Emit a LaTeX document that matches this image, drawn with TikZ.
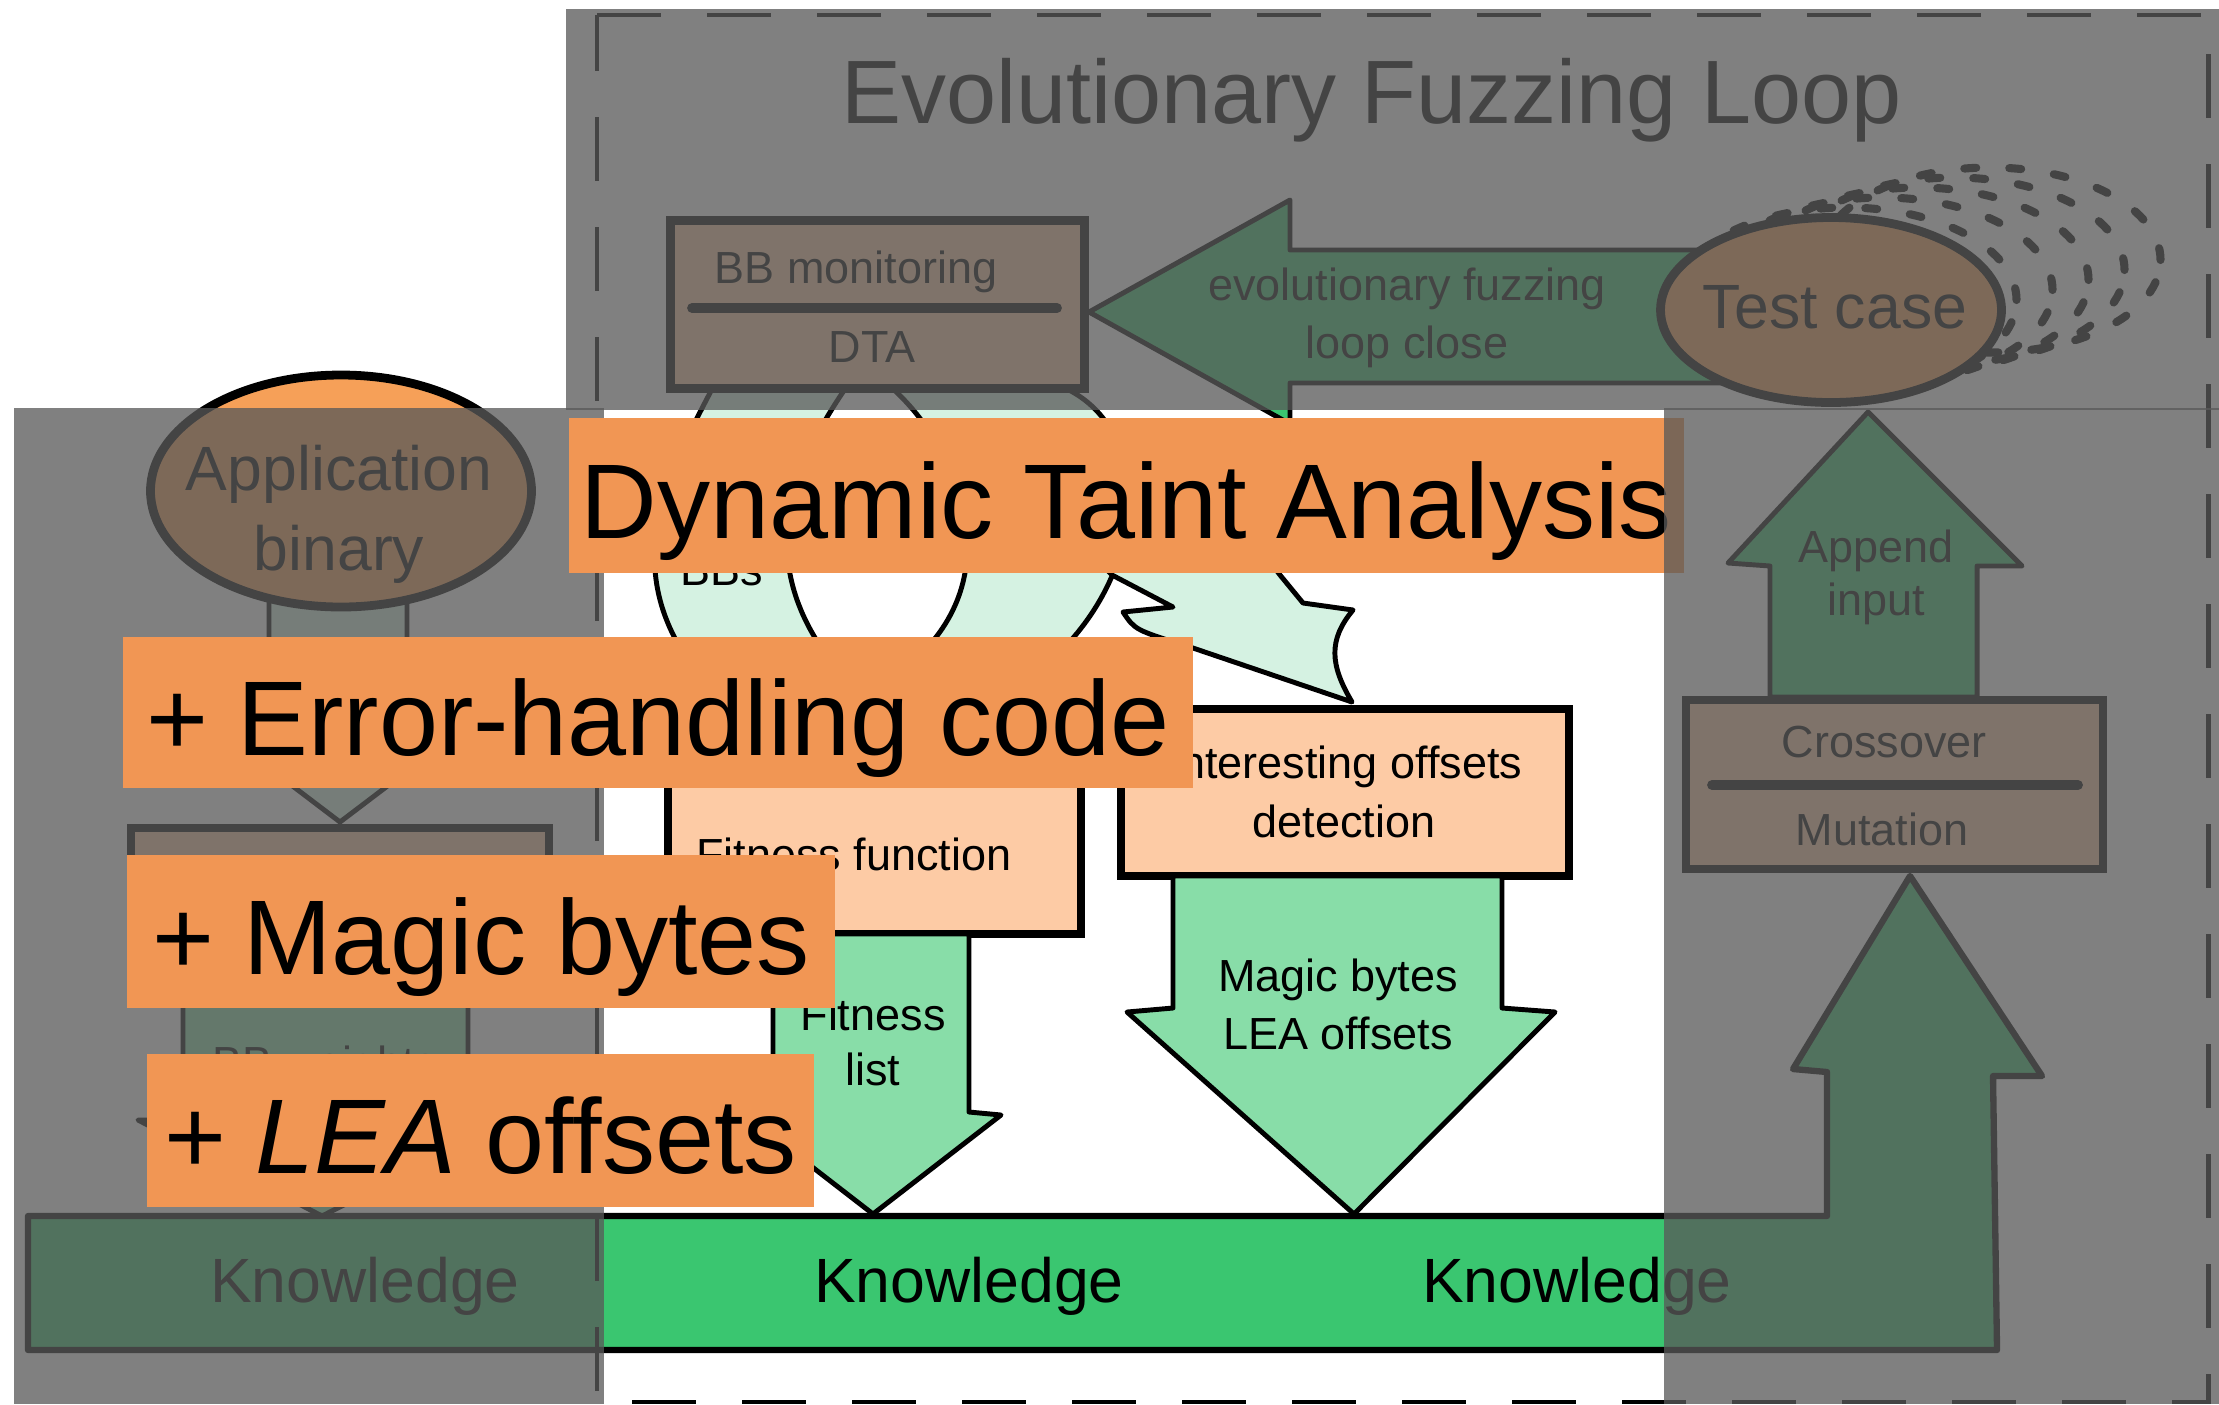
\documentclass[tikz,border=0pt]{standalone}
\usepackage{fontspec}
\setmainfont{Liberation Sans}
\usetikzlibrary{shapes.geometric}

\definecolor{tagorange}{RGB}{241,150,84}
\definecolor{apporange}{RGB}{246,160,88}
\definecolor{peach}{RGB}{253,203,165}
\definecolor{mint}{RGB}{213,242,226}
\definecolor{midgreen}{RGB}{136,221,168}
\definecolor{kgreen}{RGB}{58,198,112}
\definecolor{shade}{RGB}{89,89,89}

\tikzset{
  lbl/.style={anchor=base,inner sep=0pt,font=\fontsize{12.8}{15}\selectfont},
  biglbl/.style={anchor=base,inner sep=0pt,font=\fontsize{17.8}{21}\selectfont},
  peachbox/.style={rectangle,draw=black,line width=2.5pt,fill=peach,inner sep=0pt},
  blockarrow/.style={draw=black,line width=1.4pt,line join=round},
  divider/.style={line width=2.8pt,line cap=round},
  blob/.style={ellipse,draw=black,line width=2.5pt,fill=apporange,inner sep=0pt},
  tag/.style={fill=tagorange,inner sep=0pt,text height=24.2pt,text depth=0pt,
    font=\fontsize{30.2}{36}\selectfont},
  shadebox/.style={fill=shade,fill opacity=0.765},
}

\begin{document}
\begin{tikzpicture}[x=0.1mm,y=-0.1mm]
\useasboundingbox (0,0) rectangle (2219,1404);
\fill[white] (0,0) rectangle (2219,1404);

% static part, left column
\filldraw[blockarrow,fill=mint] (269,590) -- (269,740) -- (232,740) -- (340,822)
  -- (448,740) -- (407,740) -- (407,590) -- cycle;
\node[blob,minimum width=38.1mm,minimum height=23.2mm] (appbin) at (341,491) {};
\node[biglbl] (app1) at (339,490) {Application};
\node[biglbl] (app2) at (339,570) {binary};
\node[peachbox,minimum width=41.8mm,minimum height=17.5mm] (staticbox) at (340,915.5) {};
\filldraw[blockarrow,fill=midgreen] (183,1003) -- (183,1120) -- (138,1120) -- (322,1216)
  -- (512,1120) -- (468,1120) -- (468,1003) -- cycle;
\node[lbl] (bbw) at (325,1078) {BB weights};

% curved arrows out of the monitoring box
\filldraw[blockarrow,fill=mint] (712,389) .. controls (670,470) and (620,560) .. (688,660)
  -- (650,680) -- (760,709) -- (870,680) -- (830,660)
  .. controls (755,560) and (790,470) .. (845,389) -- cycle;
\node[lbl] (bbs) at (722,585) {BBs};
\filldraw[blockarrow,fill=mint] (893,389) .. controls (950,440) and (1010,560) .. (925,650)
  -- (880,648) -- (960,709) -- (1090,660) -- (1062,650)
  .. controls (1150,560) and (1150,430) .. (1067,389) -- cycle;
\filldraw[blockarrow,fill=mint] (1060,520) -- (1112,575) -- (1173,607) -- (1123,612)
  .. controls (1135,630) .. (1190,647) -- (1352,702)
  .. controls (1330,665) and (1328,640) .. (1353,610) -- (1303,603) -- (1280,575)
  -- (1230,510) -- cycle;

% analysis boxes
\node[peachbox,minimum width=41.3mm,minimum height=22.5mm] (fitbox) at (874.5,821.5) {};
\node[lbl] (fitfun) at (854,870) {Fitness function};
\node[peachbox,minimum width=44.8mm,minimum height=16.7mm] (intbox) at (1345,792.5) {};
\node[lbl] (int1) at (1345,778) {Interesting offsets};
\node[lbl] (int2) at (1344,837) {detection};

\filldraw[blockarrow,fill=midgreen] (773,934) -- (773,1112) -- (745,1115) -- (873,1214)
  -- (1001,1115) -- (969,1112) -- (969,934) -- cycle;
\node[lbl] (fit1) at (873,1030) {Fitness};
\node[lbl] (fit2) at (873,1085) {list};
\filldraw[blockarrow,fill=midgreen] (1173,876) -- (1173,1008) -- (1127,1012) -- (1354,1214)
  -- (1555,1012) -- (1502,1008) -- (1502,876) -- cycle;
\node[lbl] (magic1) at (1338,991) {Magic bytes};
\node[lbl] (magic2) at (1338,1049) {LEA offsets};

% knowledge bar with the arrow up to crossover
\filldraw[blockarrow,line width=1.8pt,fill=kgreen] (28,1216) -- (1827,1216) -- (1827,1072)
  -- (1793,1069) -- (1910,876) -- (2042,1076) -- (1993,1076) -- (1997,1350)
  -- (28,1350) -- cycle;
\node[biglbl] (know1) at (365,1302) {Knowledge};
\node[biglbl] (know2) at (969,1302) {Knowledge};
\node[biglbl] (know3) at (1577,1302) {Knowledge};

% evolutionary loop, top
\node[anchor=base,inner sep=0pt,font=\fontsize{25.6}{30}\selectfont] (title) at (1372,123)
  {Evolutionary Fuzzing Loop};
\filldraw[blockarrow,fill=kgreen] (1089,312) -- (1290,200) -- (1290,250) -- (1760,250)
  -- (1760,383) -- (1290,383) -- (1290,424) -- cycle;
\node[lbl] (loop1) at (1407,300) {evolutionary fuzzing};
\node[lbl] (loop2) at (1407,358) {loop close};
\node[peachbox,minimum width=41.4mm,minimum height=16.8mm] (bbbox) at (877.5,304.5) {};
\draw[divider] (692,308) -- (1057,308);
\node[lbl] (bbmon) at (856,283) {BB monitoring};
\node[lbl] (dta) at (872,362) {DTA};

\filldraw[blockarrow,fill=kgreen] (1770,697) -- (1770,566) -- (1728,563) -- (1868,412)
  -- (2022,566) -- (1977,566) -- (1977,697) -- cycle;
\node[lbl] (append) at (1876,562) {Append};
\node[lbl] (input) at (1876,615) {input};
\node[peachbox,minimum width=41.7mm,minimum height=16.9mm] (crossbox) at (1894.5,784.5) {};
\draw[divider] (1712,785) -- (2078,785);
\node[lbl] (cross) at (1884,757) {Crossover};
\node[lbl] (mut) at (1882,845) {Mutation};

\foreach \k in {1,...,5}
  \draw[line width=2.3pt,line cap=round,dash pattern=on 3.4pt off 9.4pt]
    ({1831+15+36*(\k-1)},{310-10*\k}) ellipse [x radius=17.05mm,y radius=9.25mm];
\node[blob,minimum width=34.1mm,minimum height=18.5mm] (testcase) at (1831,310) {};
\node[biglbl] (tc) at (1835,328) {Test case};

% frame
\draw[line width=1.4pt,dash pattern=on 18.2pt off 13.1pt]
  (597,15) -- (2208,15) -- (2208,1402) -- (597,1402) -- cycle;

% shading and callouts
\fill[shadebox] (14,408) rectangle (604,1404);
\fill[shadebox] (566,9) rectangle (2219,410);
\node[tag,minimum width=111.5mm,minimum height=15.5mm] (dtatag) at (1126.5,495.5)
  {Dynamic Taint Analysis};
\fill[shadebox] (1664,408) rectangle (2219,1404);
\node[tag,minimum width=107mm,minimum height=15.1mm] (errtag) at (658,712.5)
  {+ Error-handling code};
\node[tag,minimum width=70.8mm,minimum height=15.3mm] (magictag) at (481,931.5)
  {+ Magic bytes};
\node[tag,minimum width=66.7mm,minimum height=15.3mm] (leatag) at (480.5,1130.5)
  {+ \textit{LEA} offsets};
\end{tikzpicture}
\end{document}
